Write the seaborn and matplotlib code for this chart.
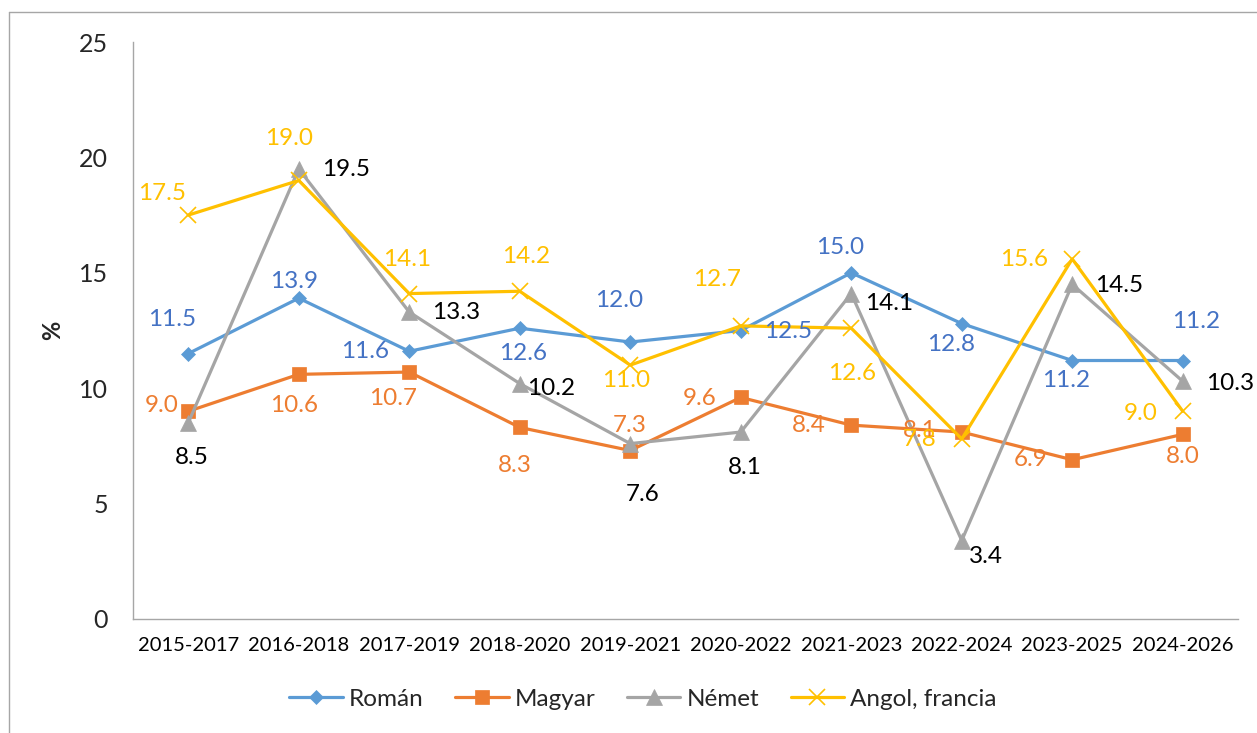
import matplotlib
matplotlib.use("Agg")
import numpy as np
import pandas as pd
import seaborn as sns
import matplotlib.pyplot as plt
from matplotlib.lines import Line2D

# chart data
periods = ["2015-2017", "2016-2018", "2017-2019", "2018-2020", "2019-2021",
           "2020-2022", "2021-2023", "2022-2024", "2023-2025", "2024-2026"]
roman = [11.5, 13.9, 11.6, 12.6, 12.0, 12.5, 15.0, 12.8, 11.2, 11.2]
magyar = [9.0, 10.6, 10.7, 8.3, 7.3, 9.6, 8.4, 8.1, 6.9, 8.0]
nemet = [8.5, 19.5, 13.3, 10.2, 7.6, 8.1, 14.1, 3.4, 14.5, 10.3]
angol = [17.5, 19.0, 14.1, 14.2, 11.0, 12.7, 12.6, 7.8, 15.6, 9.0]
series_names = ["Román", "Magyar", "Német", "Angol, francia"]

# styling
line_colors = ["#5B9BD5", "#ED7D31", "#A5A5A5", "#FFC000"]
label_colors = ["#4472C4", "#ED7D31", "#000000", "#FFC000"]
markers = ["D", "s", "^", "x"]
marker_sizes = [7, 10.5, 11.5, 11]

# data label offsets in pixels (dx right, dy down) from each point
off_roman = [(-16, -34), (-5, -17), (-44, 0), (3, 25), (-11, -42),
             (47, 1), (-11, -25), (-11, 21), (-6, 20), (13, -39)]
off_magyar = [(-27, -6), (-5, 31), (-16, 26), (-5, 38), (-1, -25),
              (-41, 1), (-42, 0), (-42, -2), (-42, 0), (0, 22)]
off_nemet = [(4, 35), (47, 1), (47, 0), (31, 5), (12, 51),
             (4, 35), (38, 10), (24, 16), (47, 1), (47, 2)]
off_angol = [(-26, -22), (-10, -42), (-2, -34), (6, -35), (-4, 15),
             (-24, -46), (1, 45), (-42, 1), (-48, 1), (-42, 2)]

all_vals = [roman, magyar, nemet, angol]
all_offs = [off_roman, off_magyar, off_nemet, off_angol]

df = pd.DataFrame({
    "pos": list(range(len(periods))) * 4,
    "value": roman + magyar + nemet + angol,
    "series": [n for n in series_names for _ in periods],
})

sns.set_theme(style="white")
plt.rcParams["font.family"] = ["Lato", "DejaVu Sans"]

W, H = 1257, 733
fig = plt.figure(figsize=(W / 100, H / 100), dpi=100)
ax = fig.add_axes([133 / W, 1 - 619 / H, (1238 - 133) / W, (619 - 42) / H])

handles = []
for name, c, m, ms in zip(series_names, line_colors, markers, marker_sizes):
    sub = df[df["series"] == name]
    sns.lineplot(data=sub, x="pos", y="value", color=c, marker=m, markersize=ms,
                 markeredgecolor=c, markerfacecolor=c,
                 markeredgewidth=1.2 if m == "x" else 0.5,
                 linewidth=2.3, legend=False, ax=ax, sort=False)
    ln = ax.lines[-1]
    ln.set_solid_joinstyle("round")
    handles.append(ln)

# data labels
for vals, offs, col in zip(all_vals, all_offs, label_colors):
    for i, (v, (dx, dy)) in enumerate(zip(vals, offs)):
        ax.annotate(f"{v:.1f}", (i, v), xytext=(dx, -dy), textcoords="offset pixels",
                    ha="center", va="center", color=col, fontsize=17.5)

axis_gray = "#A6A6A6"
ax.set_xlim(-0.5, len(periods) - 0.5)
ax.set_ylim(0, 25)
ax.set_yticks(range(0, 26, 5))
ax.set_xticks(range(len(periods)))
ax.set_xticklabels(periods, fontsize=14.5)
ax.set_xticks(np.arange(-0.5, len(periods), 1), minor=True)
ax.tick_params(axis="x", which="major", length=0, pad=13, colors="black")
ax.tick_params(axis="x", which="minor", length=6, width=1, direction="out", color=axis_gray)
ax.tick_params(axis="y", which="major", length=6, width=1, direction="out",
               color=axis_gray, labelsize=18, pad=12)
ax.set_xlabel("")
ax.set_ylabel("%", fontsize=17, fontweight="bold")
ax.yaxis.set_label_coords((64 - 133) / 1105, 0.5)
for s in ["top", "right"]:
    ax.spines[s].set_visible(False)
for s in ["left", "bottom"]:
    ax.spines[s].set_color(axis_gray)
    ax.spines[s].set_linewidth(1)
ax.grid(False)

fig.legend(handles=handles, labels=series_names, loc="center",
           bbox_to_anchor=(643 / W, 1 - 699 / H), ncol=4, frameon=False,
           fontsize=17.5, handlelength=2.2, handletextpad=0.25,
           columnspacing=1.3, numpoints=1)

# outer chart frame (left and top edge visible)
fig.add_artist(Line2D([8.5 / W, 8.5 / W], [0, 1 - 12 / H], color="#A6A6A6", lw=1))
fig.add_artist(Line2D([8.5 / W, 1], [1 - 12 / H, 1 - 12 / H], color="#A6A6A6", lw=1))

fig.savefig("out.png", dpi=100)
